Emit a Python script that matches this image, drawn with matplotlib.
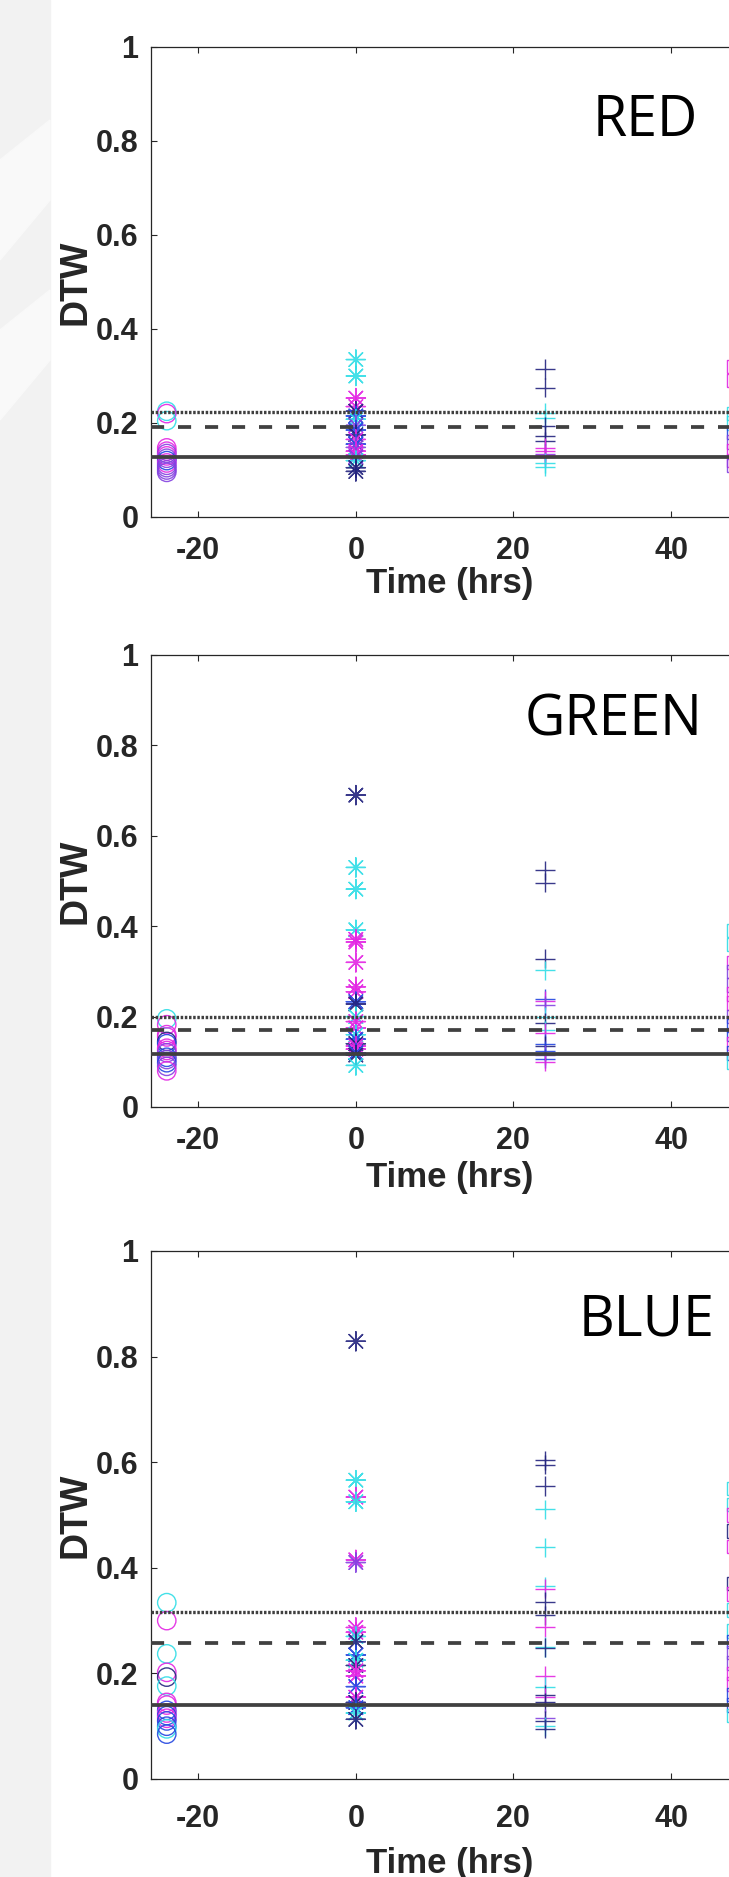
import matplotlib
matplotlib.use('Agg')
import matplotlib.pyplot as plt
from matplotlib.patches import Rectangle, Polygon

# time points (hrs) and marker per time point
times = [-24, 0, 24, 48]
markers = ['o', (8, 2, 0), '+', 's']

palette = {'c': '#2fdde6', 'm': '#e326e3', 'n': '#23237e', 'b': '#2446e0', 'p': '#8442e0'}

# RED
red_pre = [0.225, 0.22, 0.205, 0.147, 0.14, 0.135, 0.13, 0.125, 0.12, 0.115, 0.11, 0.105, 0.1, 0.095]
red_pre_c = ['c', 'm', 'c', 'm', 'm', 'p', 'm', 'p', 'b', 'm', 'p', 'p', 'p', 'p']
red_0 = [0.335, 0.30, 0.253, 0.235, 0.225, 0.215, 0.208, 0.195, 0.185, 0.175, 0.165, 0.155,
         0.148, 0.14, 0.132, 0.128, 0.12, 0.105, 0.097]
red_0_c = ['c', 'c', 'm', 'm', 'n', 'b', 'c', 'p', 'b', 'n', 'm', 'b', 'p', 'm', 'm', 'p', 'c', 'n', 'n']
red_24 = [0.315, 0.275, 0.222, 0.21, 0.193, 0.173, 0.161, 0.147, 0.14, 0.135, 0.132, 0.127, 0.115, 0.107]
red_24_c = ['n', 'n', 'c', 'c', 'n', 'n', 'n', 'm', 'm', 'p', 'm', 'm', 'c', 'c']
red_48 = [0.32, 0.29, 0.22, 0.2, 0.18, 0.16, 0.14, 0.12, 0.11]
red_48_c = ['m', 'm', 'c', 'c', 'b', 'p', 'm', 'm', 'p']
red_lines = [0.128, 0.191, 0.223]

# GREEN
green_pre = [0.195, 0.182, 0.16, 0.155, 0.145, 0.14, 0.13, 0.125, 0.12, 0.11, 0.105, 0.098, 0.09, 0.08]
green_pre_c = ['c', 'm', 'm', 'm', 'n', 'b', 'm', 'm', 'p', 'b', 'p', 'b', 'p', 'm']
green_0 = [0.69, 0.53, 0.482, 0.392, 0.371, 0.365, 0.32, 0.266, 0.255, 0.233, 0.228, 0.2, 0.189,
           0.175, 0.16, 0.15, 0.14, 0.135, 0.128, 0.12, 0.115, 0.092]
green_0_c = ['n', 'c', 'c', 'c', 'm', 'm', 'm', 'm', 'm', 'b', 'n', 'c', 'm', 'm', 'c', 'b', 'n',
             'm', 'm', 'b', 'n', 'c']
green_24 = [0.524, 0.496, 0.328, 0.302, 0.24, 0.235, 0.225, 0.2, 0.186, 0.17, 0.164, 0.14, 0.136,
            0.125, 0.115, 0.107, 0.1]
green_24_c = ['n', 'n', 'n', 'c', 'b', 'm', 'p', 'c', 'n', 'c', 'm', 'b', 'n', 'b', 'p', 'b', 'm']
green_48 = [0.39, 0.36, 0.32, 0.3, 0.27, 0.25, 0.23, 0.2, 0.18, 0.16, 0.14, 0.12, 0.1]
green_48_c = ['c', 'c', 'm', 'p', 'p', 'm', 'm', 'p', 'b', 'b', 'm', 'b', 'c']
green_lines = [0.117, 0.171, 0.2]

# BLUE
blue_pre = [0.334, 0.30, 0.237, 0.202, 0.193, 0.176, 0.145, 0.14, 0.13, 0.125, 0.12, 0.115, 0.11,
            0.1, 0.095, 0.085]
blue_pre_c = ['c', 'm', 'c', 'm', 'n', 'c', 'm', 'm', 'b', 'm', 'b', 'm', 'b', 'b', 'c', 'b']
blue_0 = [0.829, 0.566, 0.534, 0.525, 0.415, 0.41, 0.287, 0.278, 0.27, 0.26, 0.235, 0.225, 0.215,
          0.205, 0.195, 0.175, 0.155, 0.145, 0.135, 0.125, 0.113]
blue_0_c = ['n', 'c', 'm', 'c', 'm', 'p', 'm', 'm', 'c', 'n', 'b', 'c', 'n', 'm', 'm', 'b', 'm',
            'n', 'b', 'c', 'n']
blue_24 = [0.604, 0.595, 0.555, 0.511, 0.439, 0.365, 0.36, 0.336, 0.31, 0.288, 0.25, 0.249, 0.195,
           0.175, 0.16, 0.155, 0.145, 0.115, 0.11, 0.1, 0.095]
blue_24_c = ['n', 'n', 'n', 'c', 'c', 'c', 'm', 'n', 'n', 'm', 'c', 'n', 'm', 'c', 'n', 'm', 'n',
             'p', 'n', 'c', 'n']
blue_48 = [0.55, 0.52, 0.5, 0.47, 0.44, 0.37, 0.35, 0.32, 0.28, 0.26, 0.24, 0.22, 0.2, 0.18, 0.16,
           0.14, 0.12]
blue_48_c = ['c', 'c', 'm', 'n', 'm', 'n', 'm', 'c', 'c', 'b', 'p', 'p', 'm', 'm', 'b', 'b', 'c']
blue_lines = [0.141, 0.258, 0.316]

panels = [
    ('RED', [(red_pre, red_pre_c), (red_0, red_0_c), (red_24, red_24_c), (red_48, red_48_c)], red_lines),
    ('GREEN', [(green_pre, green_pre_c), (green_0, green_0_c), (green_24, green_24_c), (green_48, green_48_c)], green_lines),
    ('BLUE', [(blue_pre, blue_pre_c), (blue_0, blue_0_c), (blue_24, blue_24_c), (blue_48, blue_48_c)], blue_lines),
]

W, H = 729, 1877
# pixel boxes of the three axes (top, bottom), title centre/baseline, label offsets
boxes = [(47, 517), (655, 1107), (1251, 1779)]
title_pos = [(645, 136), (614, 735), (647, 1336)]
xlabel_off = [76, 80, 94]
xtick_pad = [13.5, 14, 18]
ax_left = 151

fig = plt.figure(figsize=(W / 100, H / 100), dpi=100)
fig.patch.set_facecolor('white')

# faint grey strip on the left edge
fig.patches.append(Rectangle((0, 0), 50 / W, 1, transform=fig.transFigure, color='#f2f2f2', zorder=0))
fig.patches.append(Polygon([(0, 1 - 160 / H), (50 / W, 1 - 120 / H), (50 / W, 1 - 200 / H), (0, 1 - 260 / H)],
                           closed=True, transform=fig.transFigure, color='#f9f9f9', zorder=0))
fig.patches.append(Polygon([(0, 1 - 330 / H), (50 / W, 1 - 290 / H), (50 / W, 1 - 360 / H), (0, 1 - 420 / H)],
                           closed=True, transform=fig.transFigure, color='#f9f9f9', zorder=0))

tick_font = dict(family=['Liberation Sans', 'DejaVu Sans'], fontweight='bold', fontsize=22, color='#262626')

for i, (name, groups, hl) in enumerate(panels):
    top, bot = boxes[i]
    tx, ty = title_pos[i]
    ax = fig.add_axes([ax_left / W, 1 - bot / H, (W - ax_left) / W, (bot - top) / H])
    ax.set_xlim(-26, 47.36)
    ax.set_ylim(0, 1)

    for t, m, (vals, cols) in zip(times, markers, groups):
        cc = [palette[k] for k in cols]
        if m in ('o', 's'):
            ax.scatter([t] * len(vals), vals, s=175 if m == 'o' else 95, marker=m, facecolors='none',
                       edgecolors=cc, linewidths=1.0, alpha=0.9, zorder=2)
        else:
            ax.scatter([t] * len(vals), vals, s=190, marker=m, color=cc,
                       linewidths=1.0, alpha=0.9, zorder=2)

    ax.axhline(hl[0], color='#404040', lw=2.7, ls='-', zorder=3)
    ax.axhline(hl[1], color='#404040', lw=2.7, ls=(0, (3.5, 3.7)), zorder=3)
    ax.axhline(hl[2], color='#404040', lw=2.4, ls=(0, (0.75, 0.5)), zorder=3)

    ax.spines['right'].set_visible(False)
    for s in ['left', 'top', 'bottom']:
        ax.spines[s].set_color('#262626')
        ax.spines[s].set_linewidth(0.9)

    ax.set_xticks([-20, 0, 20, 40], labels=['-20', '0', '20', '40'], **tick_font)
    ax.set_yticks([0, 0.2, 0.4, 0.6, 0.8, 1], labels=['0', '0.2', '0.4', '0.6', '0.8', '1'], **tick_font)
    ax.tick_params(axis='x', direction='in', top=True, length=4, width=0.8, pad=xtick_pad[i], color='#262626')
    ax.tick_params(axis='y', direction='in', length=4, width=0.8, pad=9, color='#262626')

    fig.text(tx / W, 1 - ty / H, name, ha='center', va='baseline', fontsize=40,
             family=['Open Sans', 'DejaVu Sans'], color='black')
    fig.text(450 / W, 1 - (bot + xlabel_off[i]) / H, 'Time (hrs)', ha='center', va='baseline',
             fontsize=25, fontweight='bold', family=['Liberation Sans', 'DejaVu Sans'], color='#262626')
    fig.text(86 / W, 1 - (top + bot) / 2 / H, 'DTW', rotation=90, rotation_mode='anchor',
             ha='center', va='baseline', fontsize=27, fontweight='bold',
             family=['Liberation Sans', 'DejaVu Sans'], color='#262626')

fig.savefig('out.png', dpi=100)
